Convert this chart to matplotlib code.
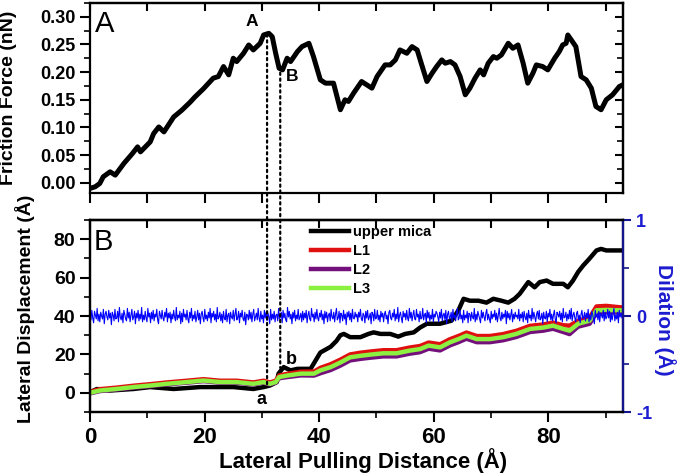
import numpy as np
import matplotlib.pyplot as plt
from matplotlib.patches import ConnectionPatch
from matplotlib.ticker import MultipleLocator, FormatStrFormatter

# ---- data ----
# panel A: friction force (nN) vs lateral pulling distance (A)
force_x = [0, 0.9, 1.7, 2.3, 3.5, 4.4, 5.9, 7.4, 8.3, 8.8, 10.5, 11.1, 12.0, 12.9, 14.6,
           16.0, 17.5, 18.3, 19.8, 21.5, 22.4, 23.3, 24.2, 25.0, 25.6, 26.8, 27.7, 28.5,
           29.7, 30.3, 31.2, 31.8, 32.4, 33.0, 33.6, 34.4, 35.0, 36.2, 37.0, 38.2, 39.0,
           40.2, 41.1, 42.5, 43.1, 43.7, 44.5, 45.1, 46.0, 47.4, 48.3, 49.2, 50.1, 51.5,
           52.4, 53.3, 54.1, 55.3, 56.2, 57.1, 57.9, 58.8, 59.7, 60.5, 61.4, 62.0, 62.9,
           63.7, 64.6, 65.5, 66.3, 67.2, 68.1, 68.7, 69.5, 70.4, 71.0, 71.8, 73.0, 73.8,
           74.7, 75.6, 76.4, 77.3, 77.9, 79.0, 79.9, 81.1, 81.9, 82.5, 83.1, 83.4, 84.0,
           84.8, 85.7, 86.6, 87.5, 88.3, 89.2, 90.1, 91.2, 92.4, 93.0]
force = [-0.010, -0.007, -0.001, 0.011, 0.020, 0.014, 0.035, 0.053, 0.065, 0.056, 0.074,
         0.089, 0.101, 0.092, 0.119, 0.131, 0.146, 0.155, 0.170, 0.189, 0.192, 0.210,
         0.195, 0.225, 0.219, 0.234, 0.249, 0.240, 0.252, 0.267, 0.270, 0.264, 0.234,
         0.207, 0.204, 0.225, 0.219, 0.237, 0.246, 0.252, 0.228, 0.186, 0.180, 0.180,
         0.156, 0.132, 0.150, 0.147, 0.162, 0.183, 0.177, 0.171, 0.192, 0.213, 0.213,
         0.222, 0.240, 0.234, 0.246, 0.240, 0.213, 0.183, 0.198, 0.210, 0.222, 0.216,
         0.219, 0.213, 0.192, 0.159, 0.171, 0.189, 0.204, 0.195, 0.216, 0.228, 0.225,
         0.231, 0.252, 0.243, 0.249, 0.216, 0.180, 0.198, 0.213, 0.210, 0.204, 0.225,
         0.237, 0.249, 0.252, 0.267, 0.258, 0.246, 0.192, 0.186, 0.171, 0.138, 0.132,
         0.150, 0.159, 0.174, 0.177]

# panel B: upper mica lateral displacement (A)
mica_x = [0, 1.2, 3.5, 7.6, 10.5, 14.6, 19.2, 25, 28.5, 30.3, 31.4, 32.6, 32.9, 33.8, 35,
          36.2, 38.5, 39.4, 40.2, 42, 43, 43.7, 44.3, 45.4, 47.2, 48.6, 49.5, 50.7, 52.4,
          53.8, 55, 56.5, 57.6, 58.8, 61.1, 63.1, 64.3, 65.2, 66.3, 67.8, 69.2, 70.4, 71.8,
          73, 74.1, 75, 76.5, 77.6, 78.5, 79.7, 80.8, 82.6, 83.4, 84.3, 85.2, 86.1, 87.2,
          88.4, 89.2, 90.1, 92.4, 93]
mica = [0.3, 2, 1.2, 2, 3, 2, 3, 3, 2, 3, 3.8, 5.6, 10, 13.4, 11.7, 12.5, 12.5, 17, 21, 24,
        27, 30, 30.7, 29, 29, 30.7, 31.5, 30.7, 30.7, 29.3, 30.7, 31.5, 34, 36, 36, 37.6,
        43, 49, 48, 48, 47, 49, 48, 47, 49, 51.6, 57.7, 55, 57.7, 58.5, 56.8, 56.8, 55,
        58.5, 63, 66.4, 70, 74.2, 75, 74.2, 74.2, 74.2]

# layers L1, L2, L3
layer_x = [0, 1.7, 4.6, 7.6, 10.5, 13.4, 16.9, 19.8, 22.7, 25.6, 28.5, 30.3, 31.4, 32.4, 33,
           34.4, 36.8, 39.1, 40.2, 42, 43.7, 45.4, 47.2, 48.9, 51.2, 53.5, 55.8, 57.6, 59.1,
           61.1, 62.8, 64.3, 65.7, 67.5, 69.8, 72.1, 74.4, 76.8, 79.1, 80.8, 82.6, 83.7,
           85.2, 87.2, 88.4, 90.1, 92.4, 93]
L1 = [0.5, 1.9, 2.7, 3.7, 4.5, 5.4, 6.3, 7.1, 6.3, 6.3, 5.4, 6.3, 5.4, 6.3, 9.0, 9.9, 11.0,
      11.1, 13.0, 14.9, 17.3, 20.0, 20.9, 21.5, 22.2, 22.2, 23.6, 24.4, 26.2, 25.3, 27.9,
      29.6, 31.4, 29.6, 29.6, 30.6, 32.3, 34.9, 35.6, 36.6, 35.2, 35.0, 37.5, 39.2, 45.0,
      45.3, 44.6, 44.5]
L2 = [-0.3, 0.9, 1.7, 2.7, 3.5, 4.4, 5.3, 6.1, 5.3, 5.3, 4.4, 5.3, 4.4, 5.3, 7.6, 8.2, 9.1,
      9.0, 10.2, 11.9, 14.2, 16.9, 17.7, 18.3, 19.0, 19.0, 20.4, 21.2, 23.0, 22.1, 24.7,
      26.4, 28.2, 26.4, 26.4, 27.4, 29.1, 31.7, 32.4, 33.4, 31.7, 30.6, 34.5, 36.0, 41.8,
      42.0, 41.8, 41.8]
L3 = [0, 1.2, 2, 3, 3.8, 4.7, 5.6, 6.4, 5.6, 5.6, 4.7, 5.6, 4.7, 5.6, 8.2, 9, 10, 10, 11.7,
      13.4, 15.8, 18.5, 19.3, 19.9, 20.6, 20.6, 22, 22.8, 24.6, 23.7, 26.3, 28, 29.8, 28,
      28, 29, 30.7, 33.3, 34, 35, 33.3, 32.4, 36, 37.6, 43, 43.2, 43, 43]

# dilation (A, x0.01), read as a noisy trace around zero
dilation_cents = [
    3, -4, 6, -2, -7, 5, 1, -3, 8, -5, 2, -6, 4, 0, -3, 7, -8, 2, 5, -1, -4, 6, -2, 3, -9, 4, 1, -5, 7, -3,
    -2, 5, -6, 9, -1, -4, 3, -7, 6, 2, -3, -5, 8, -2, 4, -6, 1, 7, -4, -1, 5, -8, 3, -2, 6, -5, 2, -3, 9, -6,
    1, -4, 5, -2, -6, 8, -1, 3, -7, 4, -3, 6, -5, 2, -1, 7, -4, -8, 5, 1, -3, 6, -2, -5, 4, -1, 8, -6, 3, -2,
    4, -7, 2, -3, 6, -1, -5, 9, -4, 1, -2, 5, -8, 3, -6, 7, -1, 2, -4, 6, -3, -7, 4, -2, 8, -5, 1, -3, 5, -6,
    -1, 6, -4, 3, -8, 2, 5, -2, -6, 7, -3, 1, -5, 4, -2, 8, -7, 3, -1, 5, -4, 2, -6, 9, -3, -1, 4, -5, 2, -7,
    5, -2, -4, 7, -6, 1, 3, -8, 4, -1, -3, 6, -5, 2, 8, -4, -2, 5, -7, 3, -1, 6, -3, -5, 4, -9, 2, 1, -4, 6,
    -3, 4, -6, 2, 7, -5, -1, 3, -4, 8, -2, -6, 5, -3, 1, -7, 6, -2, 4, -5, 3, -1, -8, 7, -4, 2, -3, 5, -6, 1,
    2, -5, 8, -3, -1, 4, -7, 6, -2, 3, -4, -6, 9, -1, 5, -3, 2, -8, 4, -2, 6, -5, 1, -3, 7, -4, -1, 3, -6, 5,
    -4, 3, -2, 6, -7, 1, 5, -3, -5, 8, -1, 2, -6, 4, -3, 7, -2, -5, 3, -1, 6, -4, 2, -8, 5, -2, 4, -6, 1, 3,
    -5, 7, -1, -3, 4, -6, 2, 8, -4, -2, 5, -7, 3, 1, -5, 6, -3, 2, -9, 4, -1, 5, -4, 3, -6, 7, -2, -3, 4, -1,
    2, -6, 4, -1, 7, -3, -5, 3, 1, -7, 5, -2, 6, -4, -1, 3, -8, 4, 2, -5, 7, -3, -2, 6, -4, 1, -6, 5, -1, 3,
    -6, 2, 5, -3, 1, -8, 4, 6, -2, -4, 3, -1, 7, -5, 2, -3, 9, -6, 1, 4, -2, -7, 5, -1, 3, -4, 6, -2, -5, 8,
    -2, 4, -5, 1, 6, -3, -4, 7, -1, 2, -6, 5, -3, -2, 8, -4, 1, 3, -7, 6, -2, 4, -5, 1, -3, 7, -6, 2, -1, 5,
    3, -1, -6, 4, -2, 7, -5, 1, 3, -4, 6, -8, 2, 5, -3, -1, 4, -6, 7, -2, 1, -5, 3, 8, -4, -2, 6, -3, 1, -7,
    6, -4, 1, -2, 5, -7, 3, 2, -5, 4, -1, -3, 8, -6, 2, -4, 5, 1, -3, -7, 6, -2, 4, -1, -5, 3, 7, -4, 2, -3,
    -7, 5, -3, 2, -1, 6, -4, 3, -6, 1, 8, -2, -5, 4, -3, 2, -1, 6, -8, 5, -2, 3, -4, 1, 7, -6, 2, -3, 4, -1,
    1, -3, 7, -5, 2, -2, 4, -6, 5, -1, -4, 3, -7, 6, -2, 1, -5, 8, -3, 4, -1, -6, 2, 5, -3, 6, -4, -2, 3, -8,
    4, -2, -3, 5, -6, 3, -1, 7, -4, 2, -5, 1, 6, -3, -7, 4, 2, -1, 5, -4, 3, -6, 8, -2, -1, 4, -5, 2, -3, 6,
    -3, 8, -5, 1, 4, -2, -6, 3, 5, -4, 1, -7, 2, 6, -3, -1, 4, -5, 3, -2, 7, -6, 1, -4, 5, 2, -3, -8, 6, -1,
    2, -4, 5, -6, 3, 1, -2, 6, -5, 4, -3, -1, 7, -2, 5, -6, 3, -4, 2, 8, -5, 1, -3, 4, -7, 6, -1, 3, -2, 0]
dilation = np.array(dilation_cents) / 100.0
dilation_x = np.linspace(0, 93, len(dilation))

# ---- figure ----
plt.rcParams['font.family'] = ['Liberation Sans', 'DejaVu Sans']
plt.rcParams['font.weight'] = 'bold'
plt.rcParams['axes.labelweight'] = 'bold'
plt.rcParams['axes.unicode_minus'] = False
plt.rcParams['axes.linewidth'] = 1.6

navy = '#14148c'
blue_txt = '#1c1cd0'

fig = plt.figure(figsize=(6.77, 4.75), dpi=100)
ax1 = fig.add_axes([0.133, 0.594, 0.787, 0.400])
ax2 = fig.add_axes([0.133, 0.1326, 0.787, 0.404])

# panel A
ax1.plot(force_x, force, color='black', lw=3.6, solid_joinstyle='round', solid_capstyle='round')
ax1.set_xlim(0, 93)
ax1.set_ylim(-0.018, 0.325)
ax1.set_yticks(np.arange(0, 0.31, 0.05))
ax1.yaxis.set_major_formatter(FormatStrFormatter('%.2f'))
ax1.yaxis.set_minor_locator(MultipleLocator(0.025))
ax1.xaxis.set_major_locator(MultipleLocator(10))
ax1.tick_params(axis='x', which='both', direction='out', length=7, width=1.5, labelbottom=False)
ax1.tick_params(axis='y', which='major', direction='out', length=7, width=1.5, labelsize=13)
ax1.tick_params(axis='y', which='minor', direction='out', length=4, width=1.2)
top1 = ax1.secondary_xaxis('top')
top1.xaxis.set_major_locator(MultipleLocator(10))
top1.tick_params(direction='in', length=6, width=1.5, labeltop=False)
right1 = ax1.secondary_yaxis('right')
right1.set_yticks(np.arange(0, 0.31, 0.05))
right1.yaxis.set_minor_locator(MultipleLocator(0.025))
right1.tick_params(which='major', direction='in', length=6, width=1.5, labelright=False)
right1.tick_params(which='minor', direction='in', length=4, width=1.2)
ax1.set_ylabel('Friction Force (nN)', fontsize=14)
ax1.yaxis.set_label_coords(-0.138, 0.5)
ax1.text(0.01, 0.965, 'A', transform=ax1.transAxes, fontsize=21, fontweight='normal', va='top')
ax1.text(28.3, 0.291, 'A', ha='center', va='center', fontsize=12.5)
ax1.text(35.3, 0.192, 'B', ha='center', va='center', fontsize=12.5)

# panel B
ax2.plot(mica_x, mica, color='black', lw=3.2, label='upper mica')
ax2.plot(layer_x, L1, color='#e01010', lw=3.2, label='L1')
ax2.plot(layer_x, L2, color='#74107c', lw=3.2, label='L2')
ax2.plot(layer_x, L3, color='#8cf040', lw=3.2, label='L3')
ax2.set_xlim(0, 93)
ax2.set_ylim(-10, 90)
ax2.set_yticks([0, 20, 40, 60, 80])
ax2.yaxis.set_minor_locator(MultipleLocator(10))
ax2.set_xticks([0, 20, 40, 60, 80])
ax2.xaxis.set_minor_locator(MultipleLocator(10))
ax2.tick_params(axis='x', which='major', direction='out', length=7, width=1.5, labelsize=16, pad=4)
ax2.tick_params(axis='x', which='minor', direction='out', length=4, width=1.2)
ax2.tick_params(axis='y', which='major', direction='out', length=7, width=1.5, labelsize=14)
ax2.tick_params(axis='y', which='minor', direction='out', length=4, width=1.2)
top2 = ax2.secondary_xaxis('top')
top2.xaxis.set_major_locator(MultipleLocator(10))
top2.tick_params(direction='in', length=6, width=1.5, labeltop=False)
ax2.set_ylabel('Lateral Displacement (Å)', fontsize=14)
ax2.yaxis.set_label_coords(-0.104, 0.54)
ax2.set_xlabel('Lateral Pulling Distance (Å)', fontsize=16)
ax2.xaxis.set_label_coords(0.512, -0.19)
ax2.text(0.006, 0.96, 'B', transform=ax2.transAxes, fontsize=21, fontweight='normal', va='top')
ax2.text(30.0, -3.7, 'a', ha='center', va='center', fontsize=13)
ax2.text(35.1, 17.3, 'b', ha='center', va='center', fontsize=13)
ax2.legend(loc='upper left', bbox_to_anchor=(0.415, 0.975), frameon=False, fontsize=10.5,
           handlelength=2.6, handletextpad=0.25, labelspacing=0.35, borderaxespad=0, borderpad=0)

ax3 = ax2.twinx()
ax3.plot(dilation_x, dilation, color='#0000ff', lw=0.8)
ax3.set_ylim(-1, 1)
ax3.set_yticks([-1, 0, 1])
ax3.yaxis.set_minor_locator(MultipleLocator(0.5))
ax3.spines['right'].set_color(navy)
ax3.tick_params(axis='y', which='major', direction='out', length=6, width=1.5, colors=navy,
                labelcolor=blue_txt, labelsize=13)
ax3.tick_params(axis='y', which='minor', direction='out', length=4, width=1.2, colors=navy)
ax3.set_ylabel('Dilation (Å)', color=blue_txt, fontsize=15, rotation=270, va='center')
ax3.yaxis.set_label_coords(1.08, 0.48)

# dotted guides crossing both panels
for xa, ya, yb in [(30.9, 0.268, 3.7), (33.2, 0.199, 13.0)]:
    con = ConnectionPatch(xyA=(xa, ya), coordsA='data', axesA=ax1,
                          xyB=(xa, yb), coordsB='data', axesB=ax2,
                          color='black', lw=1.6, linestyle=':')
    fig.add_artist(con)

fig.savefig('out.png', dpi=100)
